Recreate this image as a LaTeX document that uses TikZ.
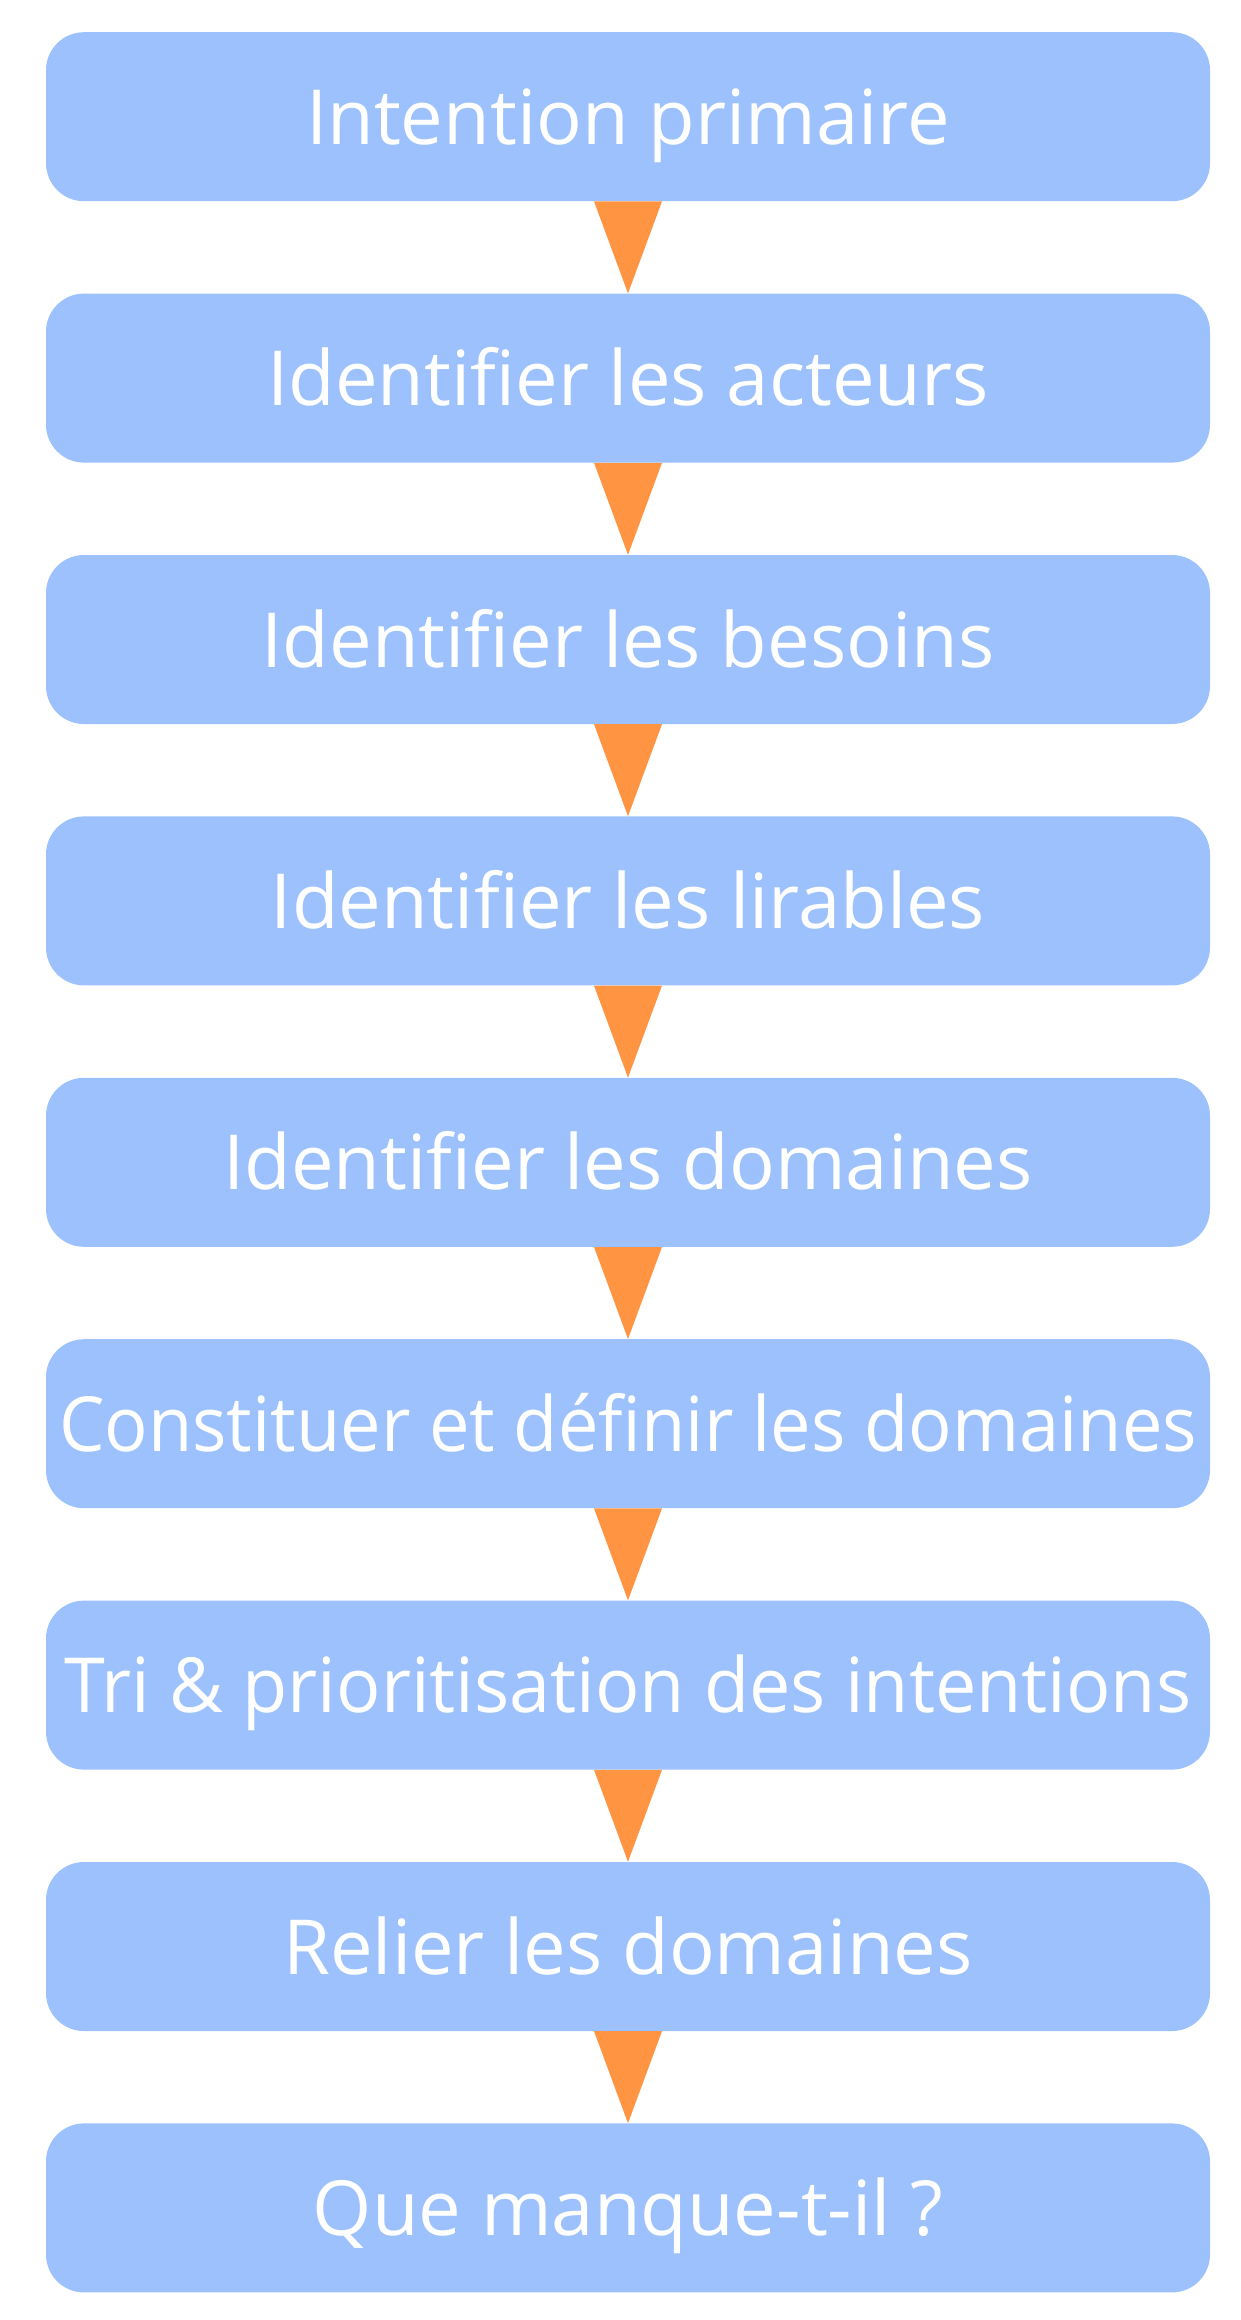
\documentclass[tikz,border=0pt]{standalone}
\usepackage{graphicx}
\usepackage{fontspec}
\setmainfont{Open Sans}
\definecolor{boxblue}{RGB}{156,193,253}
\definecolor{arrorange}{RGB}{255,148,66}
\tikzset{
  stepbox/.style={fill=boxblue, draw=none, rounded corners=38pt, minimum width=1164pt, minimum height=169pt,
    inner sep=0pt, text=white, font=\fontsize{76pt}{90pt}\selectfont, text height=55pt, text depth=0pt, anchor=north},
  tri/.style={fill=arrorange, draw=none}
}
\begin{document}
\begin{tikzpicture}[x=1pt,y=-1pt]
\useasboundingbox (0,0) rectangle (1240,2320);
\node[stepbox] (b1) at (628,32) {Intention primaire};
\node[stepbox] (b2) at (628,293.4) {Identifier les acteurs};
\node[stepbox] (b3) at (628,554.8) {Identifier les besoins};
\node[stepbox] (b4) at (628,816.2) {Identifier les lirables};
\node[stepbox] (b5) at (628,1077.6) {Identifier les domaines};
\node[stepbox] (b6) at (628,1339) {\scalebox{0.95}[1]{Constituer et définir les domaines}};
\node[stepbox] (b7) at (628,1600.4) {\scalebox{0.97}[1]{Tri \& prioritisation des intentions}};
\node[stepbox] (b8) at (628,1861.8) {Relier les domaines};
\node[stepbox] (b9) at (628,2123.2) {Que manque-t-il ?};
\foreach \a/\b in {b1/b2,b2/b3,b3/b4,b4/b5,b5/b6,b6/b7,b7/b8,b8/b9}{
  \fill[tri] ([xshift=-34pt]\a.south) -- ([xshift=34pt]\a.south) -- (\b.north) -- cycle;
}
\end{tikzpicture}
\end{document}
